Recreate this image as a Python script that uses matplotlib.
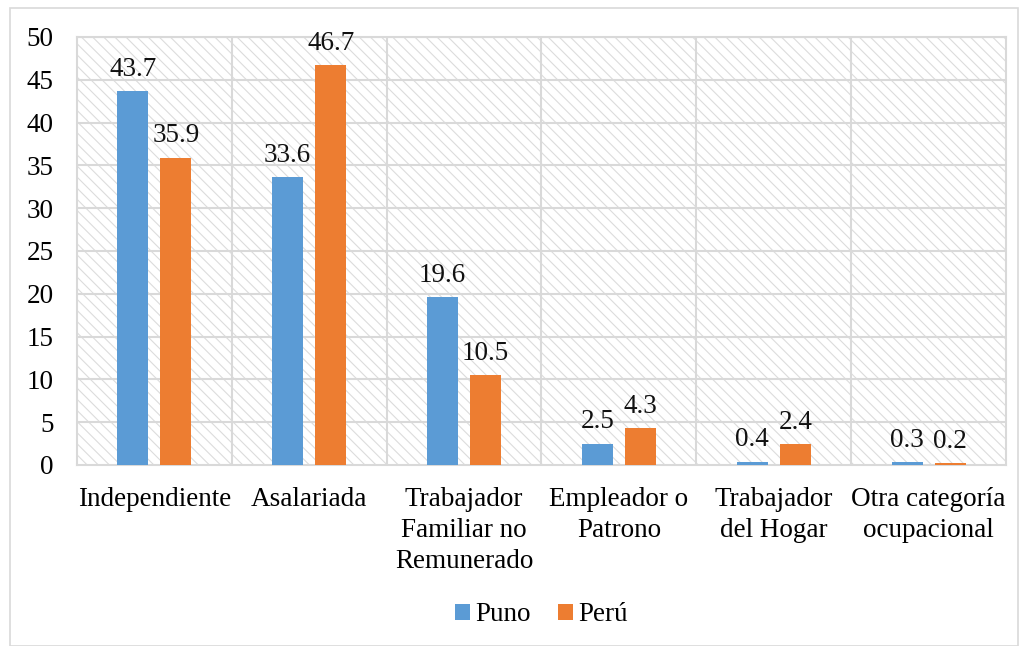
import numpy as np
import matplotlib.pyplot as plt
from matplotlib.patches import Rectangle

categories = ["Independiente", "Asalariada", "Trabajador\nFamiliar no\nRemunerado",
              "Empleador o\nPatrono", "Trabajador\ndel Hogar", "Otra categoría\nocupacional"]
puno = [43.7, 33.6, 19.6, 2.5, 0.4, 0.3]
peru = [35.9, 46.7, 10.5, 4.3, 2.4, 0.2]
series_names = ["Puno", "Perú"]

plt.rcParams['font.family'] = ['Liberation Serif', 'DejaVu Serif']
plt.rcParams['hatch.color'] = '#dcdcdc'
plt.rcParams['hatch.linewidth'] = 0.8

fs = 19.5
fig = plt.figure(figsize=(10.23, 6.46), dpi=100)
fig.patches.append(Rectangle((10/1023, 0), 1008/1023, 638/646, transform=fig.transFigure,
                             fill=False, edgecolor='#d9d9d9', lw=1.2))
ax = fig.add_axes([77/1023, 1-465/646, 929/1023, 428/646])

x = np.arange(len(categories))
w = 0.2
off = 0.139
ax.add_patch(Rectangle((-0.5, 0), len(categories), 50, facecolor='white',
                       hatch='\\\\\\', edgecolor='#dcdcdc', lw=0, zorder=0))
b1 = ax.bar(x - off, puno, w, color='#5B9BD5', label=series_names[0], zorder=3)
b2 = ax.bar(x + off, peru, w, color='#ED7D31', label=series_names[1], zorder=3)
for bars, vals in ((b1, puno), (b2, peru)):
    for r, v in zip(bars, vals):
        ax.text(r.get_x() + r.get_width()/2, v + 1.1, f"{v}", ha='center', va='bottom',
                fontsize=fs, color='#111111')

ax.set_xlim(-0.5, len(categories) - 0.5)
ax.set_ylim(0, 50)
ax.set_yticks(range(0, 51, 5))
ax.set_xticks(x)
ax.set_xticklabels(categories, fontsize=fs, linespacing=1.3)
ax.tick_params(axis='y', length=0, pad=17, labelsize=fs)
ax.tick_params(axis='x', length=0, pad=16)
for yv in range(5, 51, 5):
    ax.axhline(yv, color='#d9d9d9', lw=1.5, zorder=1)
for xv in np.arange(0.5, len(categories) - 0.5, 1):
    ax.axvline(xv, color='#d9d9d9', lw=1.5, zorder=1)
for s in ax.spines.values():
    s.set_color('#d9d9d9')
    s.set_linewidth(1.5)

ax.legend(loc='center', bbox_to_anchor=(0.5, -0.35), ncol=2, frameon=False,
          prop={'family': 'Liberation Serif', 'size': fs},
          handlelength=0.55, handleheight=0.55, handletextpad=0.2, columnspacing=1.0)

fig.savefig('out.png', dpi=100)
